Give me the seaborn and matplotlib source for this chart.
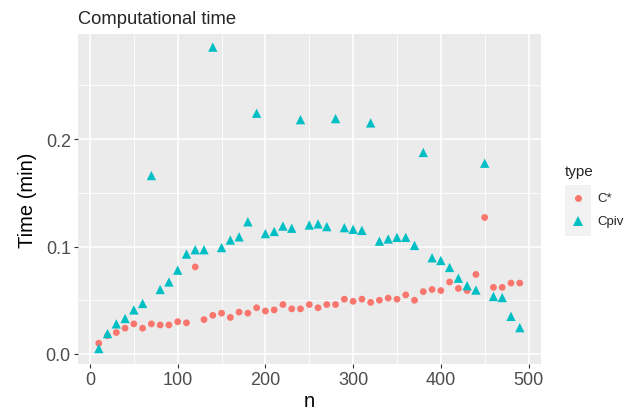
import numpy as np
import pandas as pd
import matplotlib
matplotlib.use("Agg")
import matplotlib.pyplot as plt
from matplotlib.lines import Line2D
from matplotlib.patches import Rectangle
import seaborn as sns

n_values = list(range(10, 500, 10))
cstar_time = [0.010, 0.017, 0.020, 0.024, 0.028, 0.024, 0.028, 0.027, 0.027, 0.030,
              0.029, 0.081, 0.032, 0.036, 0.038, 0.034, 0.039, 0.038, 0.043, 0.040,
              0.041, 0.046, 0.042, 0.042, 0.046, 0.043, 0.046, 0.046, 0.051, 0.049,
              0.051, 0.048, 0.050, 0.052, 0.051, 0.055, 0.050, 0.058, 0.060, 0.059,
              0.067, 0.061, 0.059, 0.074, 0.127, 0.062, 0.062, 0.066, 0.066]
cpiv_time = [0.005, 0.019, 0.028, 0.033, 0.041, 0.047, 0.166, 0.060, 0.067, 0.078,
             0.093, 0.097, 0.097, 0.2855, 0.099, 0.106, 0.109, 0.123, 0.224, 0.112,
             0.114, 0.119, 0.117, 0.218, 0.120, 0.121, 0.1185, 0.219, 0.1175, 0.116,
             0.115, 0.215, 0.105, 0.107, 0.1085, 0.1085, 0.101, 0.1875, 0.0895, 0.087,
             0.0805, 0.0705, 0.0635, 0.0595, 0.1775, 0.0535, 0.0525, 0.035, 0.0245]
type_labels = ["C*", "Cpiv"]
x_ticks = [0, 100, 200, 300, 400, 500]
y_ticks = [0.0, 0.1, 0.2]
y_tick_labels = ["0.0", "0.1", "0.2"]

df = pd.DataFrame({
    "n": n_values * 2,
    "time": cstar_time + cpiv_time,
    "type": [type_labels[0]] * len(n_values) + [type_labels[1]] * len(n_values),
})

sns.set_theme(style="darkgrid")
plt.rcParams["font.family"] = ["Liberation Sans", "DejaVu Sans"]

colors = {"C*": "#F8766D", "Cpiv": "#00BFC4"}
markers = {"C*": "o", "Cpiv": "^"}
sizes = {"C*": 24, "Cpiv": 45}

W, H = 637, 410
fig = plt.figure(figsize=(W / 100, H / 100), dpi=100)
ax = fig.add_axes([0.122, 0.1098, 0.727, 0.8048])
ax.set_facecolor("#EBEBEB")

sns.scatterplot(data=df, x="n", y="time", hue="type", style="type",
                palette=colors, markers=markers, size="type", sizes=sizes,
                linewidth=0, ax=ax, legend=False, zorder=3)

ax.set_xlim(-14, 514)
ax.set_ylim(-0.0093, 0.2977)
ax.set_xticks(x_ticks)
ax.set_xticks([50, 150, 250, 350, 450], minor=True)
ax.set_yticks(y_ticks)
ax.set_yticklabels(y_tick_labels)
ax.set_yticks([0.05, 0.15, 0.25], minor=True)
ax.grid(which="major", color="white", linewidth=1.1)
ax.grid(which="minor", color="white", linewidth=0.55)
ax.set_axisbelow(True)
for sp in ax.spines.values():
    sp.set_visible(False)
ax.tick_params(axis="both", which="major", length=3, width=0.8, color="#333333",
               labelsize=13, labelcolor="#4D4D4D", pad=2, bottom=True, left=True)
ax.tick_params(axis="both", which="minor", length=0)
ax.set_xlabel("n", fontsize=14.5, color="black", labelpad=2)
ax.set_ylabel("Time (min)", fontsize=14.5, color="black", labelpad=6)

fig.text(78 / W, 1 - 19 / H, "Computational time", fontsize=13.2, ha="left", va="center")

# legend (ggplot style)
fig.text(565 / W, 1 - 172 / H, "type", fontsize=11, ha="left", va="center")
fig.add_artist(Rectangle((565 / W, 1 - 237 / H), 25.5 / W, 51 / H,
                         transform=fig.transFigure, facecolor="#F2F2F2",
                         edgecolor="none", zorder=1))
for i, t in enumerate(type_labels):
    yc = 1 - (199 + 23 * i) / H
    fig.add_artist(Line2D([578 / W], [yc], transform=fig.transFigure,
                          marker=markers[t], markersize=5.0 if t == "C*" else 6.7,
                          markerfacecolor=colors[t], markeredgewidth=0,
                          linestyle="", zorder=2))
    fig.text(597 / W, yc, t, fontsize=9.5, ha="left", va="center")

fig.savefig("out.png", dpi=100)
